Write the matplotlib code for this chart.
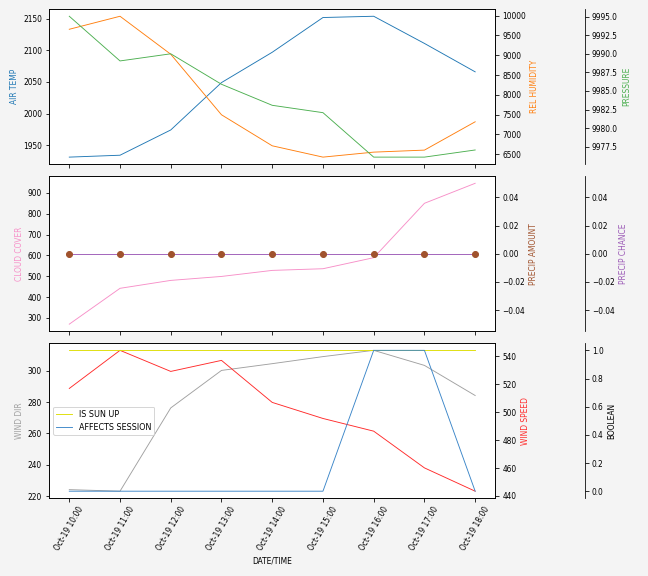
"""
Weather forecast panels: temperature/humidity/pressure, cloud/precip, wind/booleans.
"""
import matplotlib
matplotlib.use("Agg")
import matplotlib.pyplot as plt
import matplotlib.dates as mdates
import pandas as pd

plt.rcParams["font.size"] = 7.5

# Data
times = pd.to_datetime(["2019-10-19 10:00", "2019-10-19 11:00", "2019-10-19 12:00",
                        "2019-10-19 13:00", "2019-10-19 14:00", "2019-10-19 15:00",
                        "2019-10-19 16:00", "2019-10-19 17:00", "2019-10-19 18:00"])
air_temp = [1931, 1934, 1974, 2049, 2097, 2152, 2154, 2111, 2066]
rel_humidity = [9656, 9985, 9025, 7495, 6711, 6425, 6551, 6602, 7318]
pressure = [9995.05, 9989.04, 9990.0, 9985.9, 9983.07, 9982.08, 9976.1, 9976.1, 9977.06]
cloud_cover = [270, 442, 480, 499, 528, 536, 589, 850, 946]
precip_amount = [0, 0, 0, 0, 0, 0, 0, 0, 0]
precip_chance = [0, 0, 0, 0, 0, 0, 0, 0, 0]
wind_dir = [224.2, 223.2, 276.3, 300.2, 304.5, 309, 313, 303.4, 284.2]
wind_speed = [517, 544.3, 529.2, 537.1, 507, 495.5, 486.4, 460.1, 443.4]
is_sun_up = [1, 1, 1, 1, 1, 1, 1, 1, 1]
affects_session = [0, 0, 0, 0, 0, 0, 1, 1, 0]

c_temp = "tab:blue"
c_hum = "tab:orange"
c_pres = "#4caf50"
c_cloud = "#f78fc8"
c_pamt = "#a0522d"
c_pch = "#9b59b6"
c_dir = "#a0a0a0"
c_speed = "#ff2a2a"
c_sun = "#dddd00"
c_aff = "#3a85c8"
lw = 0.9


def parasite(host):
    """Third y axis, offset to the right, with only its right spine."""
    par = host.twinx()
    par.spines["right"].set_position(("axes", 1.2))
    par.set_frame_on(True)
    par.patch.set_visible(False)
    for sp in par.spines.values():
        sp.set_visible(False)
    par.spines["right"].set_visible(True)
    return par


fig = plt.figure(figsize=(9, 8), dpi=72, facecolor="#f4f4f4")
left, width = 0.0756, 0.689
ax1 = fig.add_axes([left, 0.715, width, 0.269])
ax2 = fig.add_axes([left, 0.425, width, 0.269], sharex=ax1)
ax3 = fig.add_axes([left, 0.135, width, 0.269], sharex=ax1)

# fig1
ax1.plot(times, air_temp, color=c_temp, lw=lw)
ax1.set_ylabel("AIR TEMP", color=c_temp)
ax1b = ax1.twinx()
ax1b.plot(times, rel_humidity, color=c_hum, lw=lw)
ax1b.set_ylabel("REL HUMIDITY", color=c_hum)
ax1c = parasite(ax1)
ax1c.plot(times, pressure, color=c_pres, lw=lw)
ax1c.set_ylabel("PRESSURE", color=c_pres)

# fig2
ax2.plot(times, cloud_cover, color=c_cloud, lw=lw)
ax2.set_ylabel("CLOUD COVER", color=c_cloud)
ax2b = ax2.twinx()
ax2b.plot(times, precip_amount, "o", color=c_pamt, ms=6)
ax2b.set_ylabel("PRECIP AMOUNT", color=c_pamt)
ax2c = parasite(ax2)
ax2c.plot(times, precip_chance, color=c_pch, lw=lw)
ax2c.set_ylabel("PRECIP CHANCE", color=c_pch)
ax2b.set_zorder(ax2c.get_zorder() + 1)
ax2b.patch.set_visible(False)

# fig3
ax3.plot(times, wind_dir, color=c_dir, lw=lw)
ax3.set_ylabel("WIND DIR", color=c_dir)
ax3b = ax3.twinx()
ax3b.plot(times, wind_speed, color=c_speed, lw=lw)
ax3b.set_ylabel("WIND SPEED", color=c_speed)
ax3c = parasite(ax3)
ax3c.plot(times, is_sun_up, color=c_sun, lw=lw, label="IS SUN UP")
ax3c.plot(times, affects_session, color=c_aff, lw=lw, label="AFFECTS SESSION")
ax3c.set_ylabel("BOOLEAN")
ax3c.legend(loc="center left", fontsize=8)

ax3.set_xticks(times)
ax3.xaxis.set_major_formatter(mdates.DateFormatter("%b-%d %H:%M"))
plt.setp(ax3.get_xticklabels(), rotation=60)
plt.setp(ax1.get_xticklabels(), visible=False)
plt.setp(ax2.get_xticklabels(), visible=False)
ax3.set_xlabel("DATE/TIME")

fig.savefig("out.png", dpi=72, facecolor=fig.get_facecolor())
